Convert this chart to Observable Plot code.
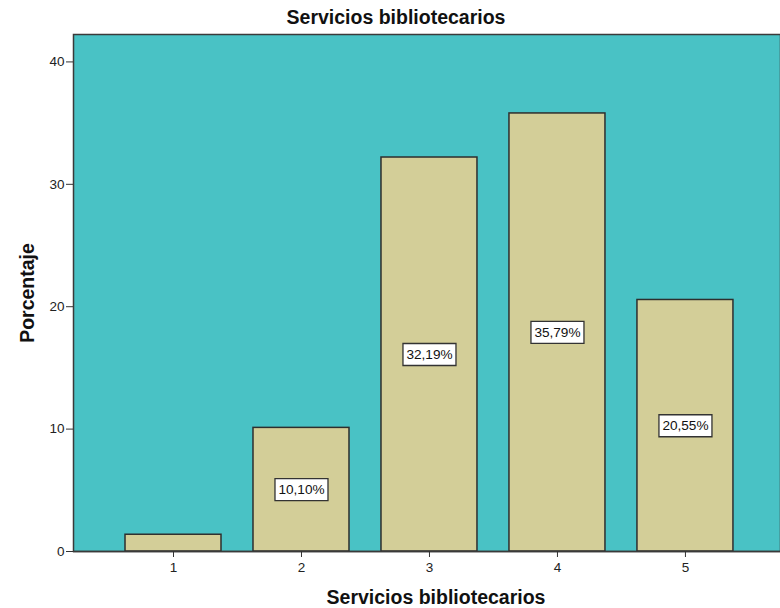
<!DOCTYPE html>
<html>
<head>
<meta charset="utf-8">
<script src="https://cdn.jsdelivr.net/npm/d3@7"></script>
<script src="https://cdn.jsdelivr.net/npm/@observablehq/plot@0.6"></script>
<style>
  html, body { margin: 0; padding: 0; background: #fff; overflow: hidden; width: 780px; height: 608px; }
  #title { height: 33px; line-height: 35px; width: 780px; text-align: center; padding-left: 12px; box-sizing: border-box;
           font-family: "Liberation Sans", Arial, sans-serif; font-weight: bold; font-size: 19.5px; color: #111; }
  #chart { width: 781px; }
  #chart svg { display: block; max-width: none !important; }
</style>
</head>
<body>
<div id="title">Servicios bibliotecarios</div>
<div id="chart"></div>
<script>
const categories = ["1", "2", "3", "4", "5"];
const values = [1.37, 10.10, 32.19, 35.79, 20.55];
const labels = [null, "10,10%", "32,19%", "35,79%", "20,55%"];
const yTicks = [0, 10, 20, 30, 40];
const xTitle = "Servicios bibliotecarios";
const yTitle = "Porcentaje";

const data = categories.map((c, i) => ({cat: c, value: values[i], label: labels[i]}));
const labeled = data.filter(d => d.label);

const boxSymbol = { draw(ctx) { ctx.rect(-26.5, -11, 53, 22); } };
const font = "'Liberation Sans', Arial, sans-serif";

const chart = Plot.plot({
  width: 781,
  height: 575,
  marginLeft: 73,
  marginRight: 1,
  marginTop: 1,
  marginBottom: 57,
  style: { fontFamily: font, fontSize: "13px", color: "#222", background: "#fff", overflow: "hidden" },
  x: { domain: categories, padding: 0.25, paddingOuter: 0.387, align: 0.525, round: false, label: null },
  y: { domain: [0, 42.24], label: null },
  marks: [
    Plot.frame({ fill: "#49C2C5", stroke: "#3a3a3a", strokeWidth: 1.5 }),
    Plot.barY(data, { x: "cat", y: "value", fill: "#D3CE98", stroke: "#2e2e2e", strokeWidth: 1.5 }),
    Plot.dot(labeled, { x: "cat", y: d => d.value / 2, symbol: boxSymbol, fill: "#fff", stroke: "#333", strokeWidth: 1.3 }),
    Plot.text(labeled, { x: "cat", y: d => d.value / 2, text: "label", fontSize: 13.6, fill: "#111" }),
    Plot.ruleY([0], { stroke: "#3a3a3a", strokeWidth: 1.5 }),
    Plot.axisY({ ticks: yTicks, tickSize: 7, tickPadding: 2, fontSize: 13.5, label: null, stroke: "#333" }),
    Plot.axisX({ tickSize: 6, tickPadding: 5, fontSize: 13.5, label: null, stroke: "#333" }),
    Plot.text([xTitle], { frameAnchor: "bottom", dy: 52, dx: 9, textAnchor: "middle", text: d => d, fontSize: 19.5, fontWeight: "bold", fill: "#111" }),
    Plot.text([yTitle], { frameAnchor: "left", dx: -46, rotate: -90, textAnchor: "middle", text: d => d, fontSize: 19.5, fontWeight: "bold", fill: "#111" })
  ]
});
document.getElementById("chart").appendChild(chart);
</script>
</body>
</html>
